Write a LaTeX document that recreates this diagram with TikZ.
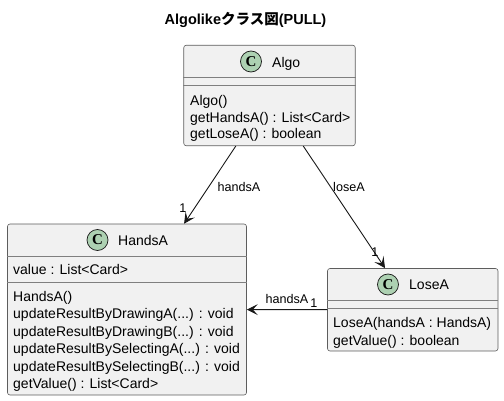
\documentclass[tikz,border=0pt]{standalone}
\usepackage{fontspec}
\setmainfont{Liberation Sans}
\newfontfamily\cjk{Noto Sans CJK JP}
\newfontfamily\spotfont{Liberation Serif}
\usetikzlibrary{arrows.meta}
\definecolor{classbg}{HTML}{F1F1F1}
\definecolor{classline}{HTML}{181818}
\definecolor{sepcolor}{HTML}{7F7F7F}
\definecolor{spotbg}{HTML}{ADD1B2}
\tikzset{
  classbox/.style = {draw = classline!70, fill = classbg, rounded corners = 2.5pt, line width = 0.6pt, inner sep = 0pt},
  sepline/.style = {draw = sepcolor, line width = 0.6pt},
  spot/.style = {circle, draw = classline, fill = spotbg, line width = 0.7pt, minimum size = 21pt, inner sep = 0pt, font = \fontsize{15}{15}\spotfont\bfseries},
  head/.style = {anchor = base west, inner sep = 0pt, font = \fontsize{14}{16}\selectfont},
  member/.style = {anchor = base west, inner sep = 0pt, font = \fontsize{14}{16}\selectfont},
  tag/.style = {anchor = base, inner sep = 0pt, font = \fontsize{12.6}{14}\selectfont},
  assoc/.style = {draw = classline, line width = 0.9pt, -{Stealth[length = 11pt, width = 11pt, inset = 5pt]}}
}
\begin{document}
\begin{tikzpicture}[x = 1pt, y = -1pt]
\useasboundingbox (0,0) rectangle (504,401);
\node(title) [anchor = base, inner sep = 0pt, font = \fontsize{14.5}{16}\selectfont\bfseries] at (245.5,25) {Algolike{\cjk クラス図}(PULL)};

\node(algo) [classbox, minimum width = 171.5pt, minimum height = 100.5pt] at (269.5,95.5) {};
\node(hands) [classbox, minimum width = 239pt, minimum height = 171pt] at (127,309.5) {};
\node(lose) [classbox, minimum width = 170.5pt, minimum height = 82.5pt] at (412.75,309.75) {};

\draw[sepline] (algo.west |- 0,77) -- (algo.east |- 0,77);
\draw[sepline] (algo.west |- 0,85) -- (algo.east |- 0,85);
\draw[sepline] (hands.west |- 0,256) -- (hands.east |- 0,256);
\draw[sepline] (hands.west |- 0,282) -- (hands.east |- 0,282);
\draw[sepline] (lose.west |- 0,300) -- (lose.east |- 0,300);
\draw[sepline] (lose.west |- 0,308) -- (lose.east |- 0,308);

\node(s1) [spot] at (251,61.5) {C};
\node(s2) [spot] at (97.5,240) {C};
\node(s3) [spot] at (388,284.5) {C};

\node(n1) [head] at (272,67.5) {Algo};
\node(n2) [head] at (118,245.5) {HandsA};
\node(n3) [head] at (409,290) {LoseA};

\node(a1) [member] at (190,105.5) {Algo()};
\node(a2) [member] at (190,122.5) {getHandsA() : List<Card>};
\node(a3) [member] at (190,139) {getLoseA() : boolean};

\node(h1) [member] at (13,275) {value : List<Card>};
\node(h2) [member] at (13,301.5) {HandsA()};
\node(h3) [member] at (13,318.5) {updateResultByDrawingA(...) : void};
\node(h4) [member] at (13,336) {updateResultByDrawingB(...) : void};
\node(h5) [member] at (13,353.5) {updateResultBySelectingA(...) : void};
\node(h6) [member] at (13,371) {updateResultBySelectingB(...) : void};
\node(h7) [member] at (13,388.5) {getValue() : List<Card>};

\node(l1) [member] at (333,327) {LoseA(handsA : HandsA)};
\node(l2) [member] at (333,345) {getValue() : boolean};

\draw[assoc] (algo) -- (hands);
\draw[assoc] (algo) -- (lose);
\draw[assoc] (lose) -- (hands);

\node(t1) [tag] at (239,192) {handsA};
\node(t2) [tag] at (349,192) {loseA};
\node(t3) [tag] at (287,304) {handsA};
\node(t4) [tag] at (183,213) {1};
\node(t5) [tag] at (375,257) {1};
\node(t6) [tag] at (314,307) {1};
\end{tikzpicture}
\end{document}
